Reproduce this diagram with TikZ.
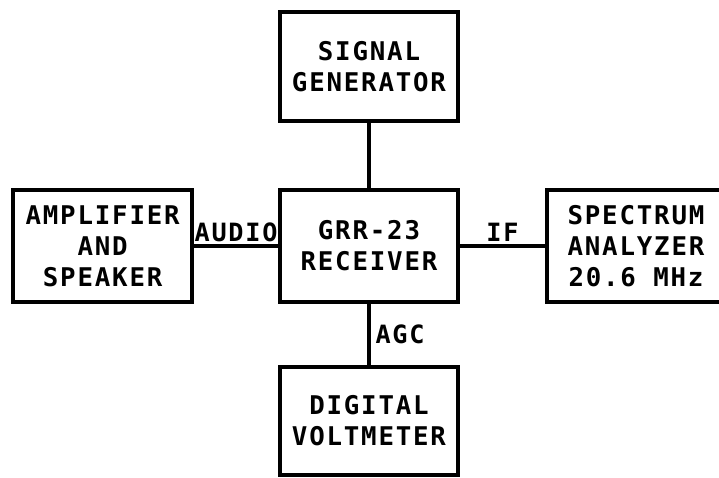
\documentclass[tikz,border=0pt]{standalone}
\usepackage{fontspec}
\newfontfamily\blockfont{DejaVu Sans Mono Bold}[LetterSpace=7]
\usetikzlibrary{arrows.meta,calc,positioning}
\tikzset{
  block/.style={draw,rectangle,line width=3.2pt,minimum width=5.34cm,minimum height=3.36cm,align=center,
    font=\blockfont\fontsize{22}{26.5}\selectfont},
  lbl/.style={font=\blockfont\fontsize{21.5}{26}\selectfont,inner sep=2pt}
}

\begin{document}
\begin{tikzpicture}[>=Stealth,line width=3.2pt]
  \useasboundingbox (0,0) rectangle (21.57,14.31);
  \node[block,minimum height=3.27cm] (gen) at (11.07,12.31) {SIGNAL\\GENERATOR};
  \node[block] (rcv) at (11.07,6.93) {GRR-23\\RECEIVER};
  \node[block,minimum width=5.37cm] (amp) at (3.08,6.93) {AMPLIFIER\\AND\\SPEAKER};
  \node[block] (spec) at (19.08,6.93) {SPECTRUM\\ANALYZER\\20.6 MHz};
  \node[block,minimum height=3.24cm] (dvm) at (11.07,1.68) {DIGITAL\\VOLTMETER};
  \draw (gen) -- (rcv);
  \draw (amp) -- node[lbl,above]{AUDIO} (rcv);
  \draw (rcv) -- node[lbl,above]{IF} (spec);
  \draw (rcv) -- node[lbl,right,xshift=2pt]{AGC} (dvm);
\end{tikzpicture}
\end{document}
